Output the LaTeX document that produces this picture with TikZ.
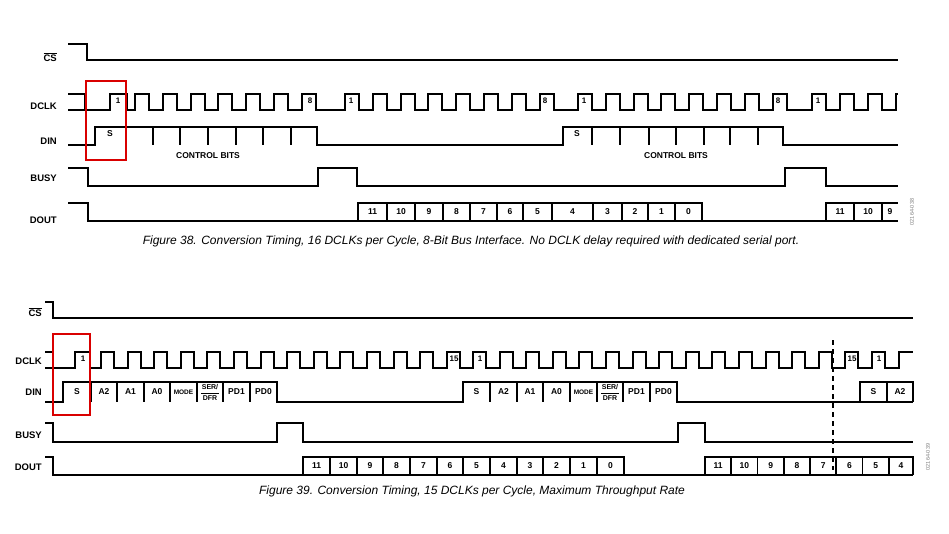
\documentclass[tikz,border=0pt]{standalone}
\usepackage{fontspec}
\setmainfont{Liberation Sans}
\begin{document}
\begin{tikzpicture}[x=1pt,y=-1pt,
  sig/.style={line width=1.9pt,line join=miter},
  lbl/.style={font=\fontsize{9.5}{10}\selectfont\bfseries,anchor=east,inner sep=0},
  cell/.style={font=\fontsize{8.5}{9}\selectfont\bfseries,inner sep=0},
  num/.style={font=\fontsize{8}{8}\selectfont\bfseries,inner sep=0},
  figcap/.style={font=\fontsize{12}{13}\selectfont\itshape,inner sep=0},
  idt/.style={font=\fontsize{5.5}{6}\selectfont,rotate=90,inner sep=0,text=gray},
  redbox/.style={draw=red!85!black,line width=1.8pt}]
\useasboundingbox (0,0) rectangle (949,533);
% ================= Figure 38 =================
\node[lbl] (l38cs) at (57,57) {$\overline{\mbox{CS}}$};
\node[lbl] (l38clk) at (57,106) {DCLK};
\node[lbl] (l38din) at (57,141) {DIN};
\node[lbl] (l38busy) at (57,178) {BUSY};
\node[lbl] (l38dout) at (57,220) {DOUT};
% CS
\draw[sig] (68,44)--(87,44)--(87,60)--(898,60);
% DCLK
\draw[sig] (68,94)--(85,94)--(85,110);
\draw[sig] (68,110)--(110,110)--(110,94)--(127,94)--(127,110)
  \foreach \k in {0,...,6}{--({135+27.8*\k},110)--({135+27.8*\k},94)--({149+27.8*\k},94)--({149+27.8*\k},110)}
  \foreach \k in {0,...,7}{--({345+27.8*\k},110)--({345+27.8*\k},94)--({359+27.8*\k},94)--({359+27.8*\k},110)}
  \foreach \k in {0,...,7}{--({578+27.8*\k},110)--({578+27.8*\k},94)--({592+27.8*\k},94)--({592+27.8*\k},110)}
  \foreach \r in {812,840,868}{--(\r,110)--(\r,94)--(\r+14,94)--(\r+14,110)}
  --(896,110)--(896,94)--(898,94);
\node[num] (c38a) at (118,101) {1};
\node[num] (c38b) at (310,101) {8};
\node[num] (c38c) at (351,101) {1};
\node[num] (c38d) at (545,101) {8};
\node[num] (c38e) at (584,101) {1};
\node[num] (c38f) at (778,101) {8};
\node[num] (c38g) at (818,101) {1};
% DIN
\draw[sig] (68,145)--(95,145)--(95,127)--(317,127)--(317,145)--(563,145)--(563,127)--(783,127)--(783,145)--(898,145);
\foreach \x in {126,153,180,208,236,263,291}{\draw[sig] (\x,127)--(\x,145);}
\foreach \x in {592,620,649,676,704,730,758}{\draw[sig] (\x,127)--(\x,145);}
\node[cell] (d38s1) at (110,134) {S};
\node[cell] (d38s2) at (577,134) {S};
\node[cell] (d38cb1) at (208,156) {CONTROL BITS};
\node[cell] (d38cb2) at (676,156) {CONTROL BITS};
% BUSY
\draw[sig] (68,168)--(88,168)--(88,186)--(318,186)--(318,168)--(357,168)--(357,186)--(785,186)--(785,168)--(826,168)--(826,186)--(898,186);
% DOUT
\draw[sig] (68,203)--(88,203)--(88,221)--(898,221);
\draw[sig] (358,221)--(358,203)--(702,203)--(702,221);
\draw[sig] (826,221)--(826,203)--(898,203);
\foreach \x in {387,415,443,470,497,523,552,593,622,648,675,854,882}{\draw[sig] (\x,203)--(\x,221);}
\foreach \a/\b/\t [count=\i] in {358/387/11,387/415/10,415/443/9,443/470/8,470/497/7,497/523/6,523/552/5,552/593/4,593/622/3,622/648/2,648/675/1,675/702/0,826/854/11,854/882/10,882/898/9}
  {\node[cell] (o38\i) at ({(\a+\b)/2},212) {\t};}
\draw[redbox] (86,81) rectangle (126,160);
\node[figcap] (cap38) at (471,241) {Figure 38. Conversion Timing, 16 DCLKs per Cycle, 8-Bit Bus Interface. No DCLK delay required with dedicated serial port.};
\node[idt] (id38) at (912,212) {02164-038};
% ================= Figure 39 =================
\node[lbl] (l39cs) at (42,312) {$\overline{\mbox{CS}}$};
\node[lbl] (l39clk) at (42,361) {DCLK};
\node[lbl] (l39din) at (42,392) {DIN};
\node[lbl] (l39busy) at (42,435) {BUSY};
\node[lbl] (l39dout) at (42,467) {DOUT};
\draw[sig] (45,302)--(53,302)--(53,318)--(913,318);
% DCLK
\draw[sig] (45,352)--(53,352)--(53,368);
\draw[sig] (45,368)--(75,368)--(75,352)--(90,352)--(90,368)
  \foreach \k in {0,...,13}{--({101+26.6*\k},368)--({101+26.6*\k},352)--({114+26.6*\k},352)--({114+26.6*\k},368)}
  \foreach \k in {0,...,14}{--({473+26.6*\k},368)--({473+26.6*\k},352)--({486+26.6*\k},352)--({486+26.6*\k},368)}
  --(872,368)--(872,352)--(885,352)--(885,368)--(899,368)--(899,352)--(913,352);
\node[num] (c39a) at (83,359) {1};
\node[num] (c39b) at (454,359) {15};
\node[num] (c39c) at (480,359) {1};
\node[num] (c39d) at (852,359) {15};
\node[num] (c39e) at (879,359) {1};
% DIN
\draw[sig] (45,402)--(63,402)--(63,382)--(277,382)--(277,402)--(463,402)--(463,382)--(677,382)--(677,402)--(860,402)--(860,382)--(913,382)--(913,402);
\draw[sig] (860,402)--(913,402);
\foreach \x in {91,117,144,170,197,223,250,490,517,543,570,597,623,650,887}{\draw[sig] (\x,382)--(\x,402);}
\foreach \a/\b/\t [count=\i] in {63/91/S,91/117/A2,117/144/A1,144/170/A0,223/250/PD1,250/277/PD0,463/490/S,490/517/A2,517/543/A1,543/570/A0,623/650/PD1,650/677/PD0,860/887/S,887/913/A2}
  {\node[cell] (i39\i) at ({(\a+\b)/2},392) {\t};}
\node[cell,font=\fontsize{6.5}{7}\selectfont\bfseries] (m39a) at (183.5,392) {MODE};
\node[cell,font=\fontsize{6.5}{7}\selectfont\bfseries] (m39b) at (583.5,392) {MODE};
\foreach \c/\n in {210/a,610/b}{
  \node[cell,font=\fontsize{7}{7}\selectfont\bfseries] (s39\n) at (\c,387.5) {SER/};
  \node[cell,font=\fontsize{7}{7}\selectfont\bfseries] (f39\n) at (\c,398.5) {DFR};
  \draw[line width=0.7pt] (\c-9,393)--(\c+9,393);}
% BUSY
\draw[sig] (45,423)--(53,423)--(53,442)--(277,442)--(277,423)--(303,423)--(303,442)--(678,442)--(678,423)--(705,423)--(705,442)--(913,442);
% DOUT
\draw[sig] (45,457)--(53,457)--(53,475)--(913,475);
\draw[sig] (303,475)--(303,457)--(624,457)--(624,475);
\draw[sig] (705,475)--(705,457)--(913,457)--(913,475);
\foreach \x in {330,357,383,410,437,463,490,517,543,570,597,731.25,757.5,783.75,810,836.25,862.5,888.75}{\draw[sig] (\x,457)--(\x,475);}
\foreach \a/\b/\t [count=\i] in {303/330/11,330/357/10,357/383/9,383/410/8,410/437/7,437/463/6,463/490/5,490/517/4,517/543/3,543/570/2,570/597/1,597/624/0,705/731.25/11,731.25/757.5/10,757.5/783.75/9,783.75/810/8,810/836.25/7,836.25/862.5/6,862.5/888.75/5,888.75/913/4}
  {\node[cell] (o39\i) at ({(\a+\b)/2},466) {\t};}
\coordinate (dashtop) at (833,340);
\coordinate (dashbot) at (833,470);
\draw[line width=1.3pt,dash pattern=on 5pt off 4pt] (dashtop)--(dashbot);
\draw[redbox] (53,334) rectangle (90,415);
\node[figcap] (cap39) at (472,491) {Figure 39. Conversion Timing, 15 DCLKs per Cycle, Maximum Throughput Rate};
\node[idt] (id39) at (928,457) {02164-039};
\end{tikzpicture}
\end{document}
